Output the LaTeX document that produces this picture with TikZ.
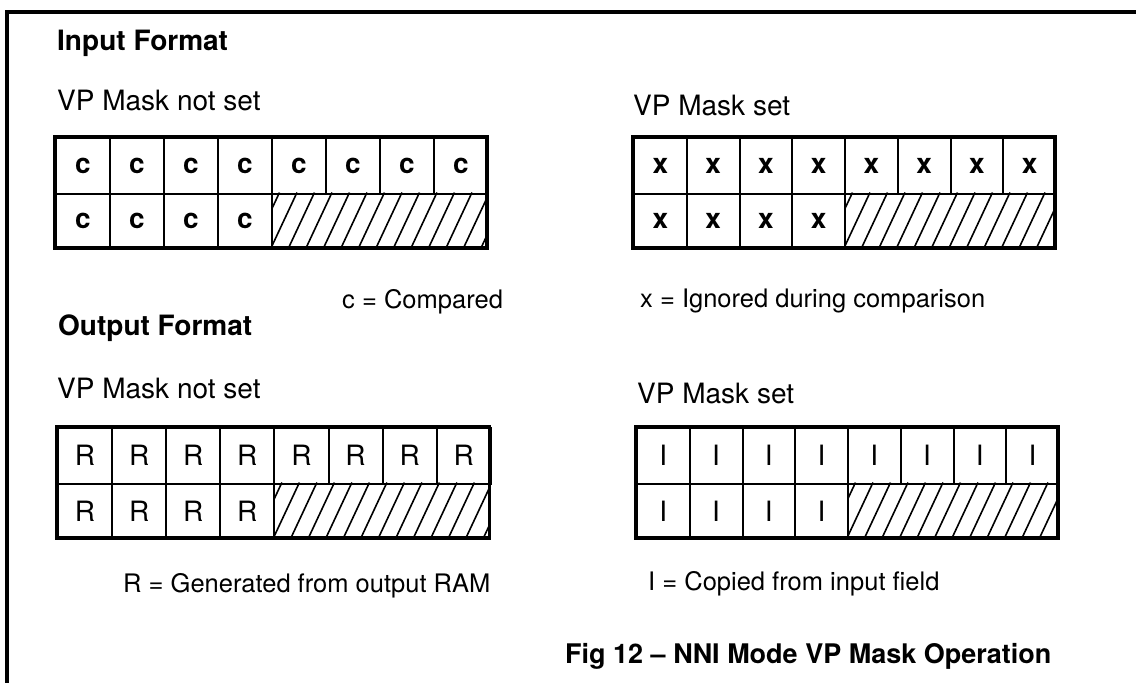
\documentclass[tikz,border=0pt]{standalone}
\usepackage{fontspec}
\setmainfont{TeX Gyre Heros}

% one mask table: name, left, top, cell width, cell letter
\newcommand{\masktable}[5]{%
  \foreach \i in {0,...,7}
    \node[cellbox,minimum width=#4pt] (#1-t\i) at ({#2+\i*#4},#3) {#5};
  \foreach \i in {0,...,3}
    \node[cellbox,minimum width=#4pt] (#1-b\i) at ({#2+\i*#4},#3+55.5) {#5};
  \begin{scope}
    \clip ({#2+4*#4},#3+55.5) rectangle ({#2+8*#4},#3+111);
    \foreach \k in {-2,...,13}
      \draw[hatchline] ({#2+4*#4+\k*17.5},#3+111) -- ++(26,-55.5);
  \end{scope}
  \draw[tablebox] (#2,#3) rectangle ({#2+8*#4},#3+111);
}

\begin{document}
\begin{tikzpicture}[x=1pt,y=-1pt]
\tikzset{
  cellbox/.style={draw,line width=2pt,inner sep=0pt,anchor=north west,
    minimum height=55.5pt,font=\fontsize{28}{32}\selectfont},
  hatchline/.style={line width=1.6pt},
  tablebox/.style={line width=3.2pt},
  frameline/.style={line width=3.2pt},
  headtext/.style={anchor=base west,inner sep=0pt,font=\fontsize{28}{32}\selectfont\bfseries},
  masklabel/.style={anchor=base west,inner sep=0pt,font=\fontsize{28}{32}\selectfont},
  keytext/.style={anchor=base west,inner sep=0pt,font=\fontsize{25.5}{30}\selectfont}
}
\useasboundingbox (0,0) rectangle (1136,683);
\draw[frameline] (1136,12) -- (7,12) -- (7,683);

% input format
\node[headtext] (inhead) at (57,50) {Input Format};
\node[masklabel] (innotset) at (57,110) {VP Mask not set};
\node[masklabel] (inset) at (633,115) {VP Mask set};
\masktable{inleft}{55}{137}{54}{\bfseries c}
\masktable{inright}{633}{137}{52.75}{\bfseries x}
\node[keytext] (ckey) at (342,308) {c = Compared};
\node[keytext] (xkey) at (640,307) {x = Ignored during comparison};

% output format
\node[headtext] (outhead) at (58,335) {Output Format};
\node[masklabel] (outnotset) at (57,398) {VP Mask not set};
\node[masklabel] (outset) at (637,403) {VP Mask set};
\masktable{outleft}{57}{427}{54.1}{R}
\masktable{outright}{636}{427}{52.75}{I}
\node[keytext] (rkey) at (123,592) {R = Generated from output RAM};
\node[keytext] (ikey) at (648,590) {I = Copied from input field};

\node[headtext,font=\fontsize{27}{32}\selectfont\bfseries] (caption) at (565,663)
  {Fig 12 -- NNI Mode VP Mask Operation};
\end{tikzpicture}
\end{document}
